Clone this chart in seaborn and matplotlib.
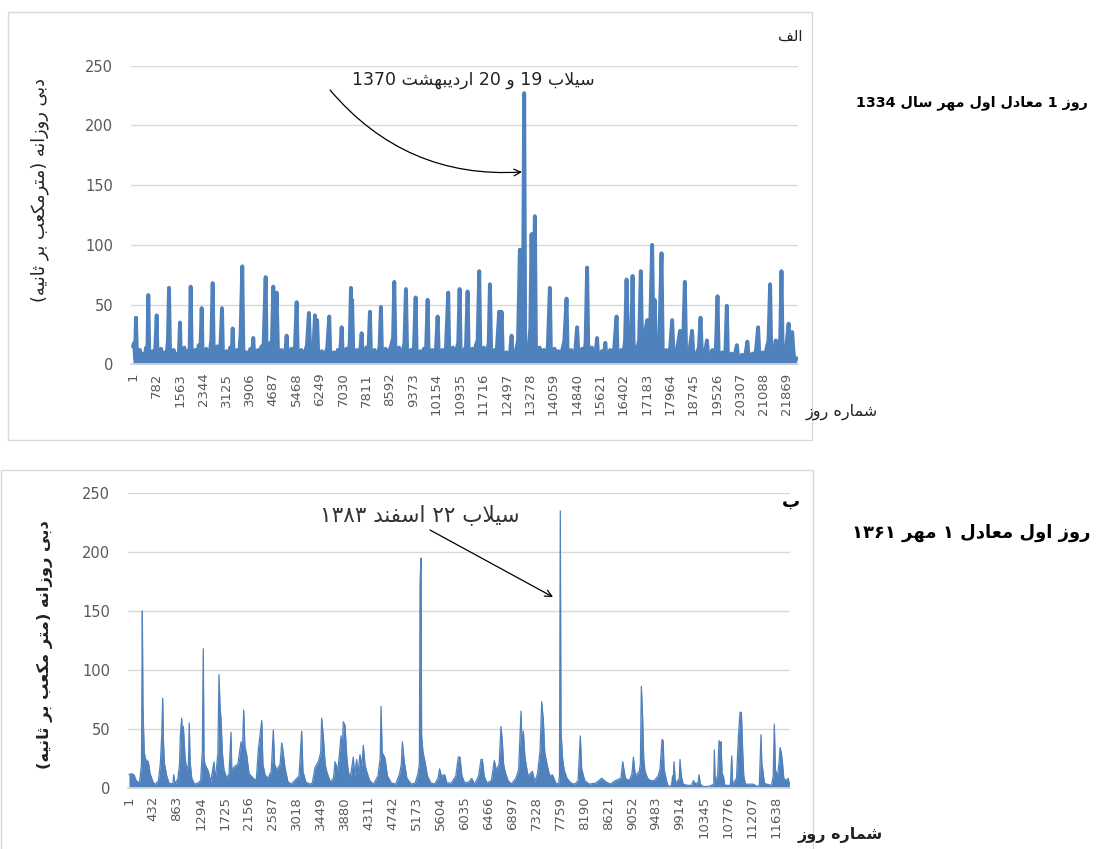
import re
import matplotlib
matplotlib.use("Agg")
import matplotlib.pyplot as plt
from matplotlib.patches import Rectangle
import seaborn as sns

W, H = 1104, 849

# =========================
# data
# =========================

# panel a: day number (from 1 Mehr 1334) / daily discharge (m3/s)
day_a = [
    0, 40, 70, 100, 130, 170, 230, 270, 330, 380,
    440, 480, 513, 545, 590, 660, 700, 750, 793, 820,
    870, 940, 990, 1060, 1110, 1170, 1205, 1240, 1290, 1360,
    1410, 1480, 1530, 1573, 1600, 1650, 1720, 1770, 1840, 1890,
    1930, 1965, 2010, 2080, 2130, 2200, 2250, 2298, 2330, 2380,
    2450, 2500, 2570, 2620, 2666, 2700, 2750, 2820, 2870, 2930,
    2977, 3010, 3060, 3130, 3180, 3250, 3300, 3335, 3370, 3420,
    3490, 3540, 3600, 3656, 3690, 3740, 3810, 3860, 3930, 3980,
    4024, 4060, 4110, 4180, 4230, 4300, 4360, 4438, 4470, 4520,
    4590, 4640, 4693, 4740, 4806, 4850, 4900, 4970, 5020, 5090,
    5140, 5180, 5230, 5300, 5350, 5420, 5475, 5510, 5560, 5630,
    5680, 5750, 5820, 5886, 5930, 5990, 6040, 6087, 6120, 6160,
    6200, 6250, 6320, 6370, 6440, 6500, 6565, 6600, 6650, 6720,
    6770, 6850, 6930, 6980, 7020, 7070, 7140, 7190, 7250, 7291,
    7310, 7330, 7370, 7420, 7490, 7540, 7600, 7649, 7690, 7740,
    7810, 7870, 7926, 7960, 8010, 8080, 8130, 8200, 8250, 8294,
    8330, 8380, 8450, 8500, 8570, 8640, 8700, 8740, 8780, 8830,
    8900, 8950, 9020, 9080, 9130, 9170, 9220, 9290, 9340, 9400,
    9455, 9490, 9540, 9610, 9660, 9730, 9800, 9856, 9890, 9940,
    10010, 10060, 10130, 10190, 10230, 10280, 10350, 10400, 10470, 10545,
    10580, 10630, 10700, 10750, 10820, 10880, 10926, 10960, 11010, 11080,
    11140, 11193, 11230, 11280, 11350, 11400, 11470, 11530, 11582, 11620,
    11670, 11740, 11790, 11860, 11900, 11940, 11980, 12030, 12100, 12160,
    12250, 12290, 12330, 12370, 12420, 12490, 12540, 12610, 12665, 12700,
    12750, 12820, 12880, 12942, 12990, 13040, 13086, 13120, 13180, 13240,
    13290, 13333, 13380, 13443, 13480, 13530, 13600, 13660, 13740, 13800,
    13880, 13945, 13980, 14030, 14100, 14160, 14230, 14290, 14360, 14430,
    14503, 14540, 14590, 14660, 14720, 14790, 14857, 14900, 14950, 15020,
    15080, 15140, 15191, 15230, 15280, 15350, 15410, 15470, 15525, 15560,
    15610, 15680, 15740, 15800, 15840, 15890, 15960, 16020, 16100, 16176,
    16210, 16260, 16330, 16400, 16460, 16510, 16560, 16620, 16670, 16711,
    16750, 16800, 16870, 16930, 16988, 17030, 17100, 17200, 17250, 17300,
    17366, 17410, 17450, 17490, 17540, 17600, 17680, 17720, 17770, 17840,
    17900, 17970, 18035, 18080, 18140, 18210, 18300, 18350, 18400, 18460,
    18500, 18550, 18620, 18700, 18750, 18800, 18870, 18930, 18985, 19030,
    19080, 19150, 19200, 19250, 19310, 19380, 19440, 19500, 19553, 19590,
    19640, 19710, 19770, 19820, 19864, 19900, 19950, 20020, 20080, 20150,
    20200, 20250, 20300, 20370, 20430, 20500, 20550, 20600, 20650, 20720,
    20780, 20850, 20911, 20950, 21000, 21070, 21130, 21200, 21260, 21312,
    21350, 21400, 21450, 21500, 21550, 21600, 21650, 21693, 21730, 21780,
    21850, 21930, 21980, 22050, 22100, 22150, 22200,
]
q_a = [
    15, 18, 5, 39, 8, 3, 12, 2, 9, 3,
    14, 6, 58, 9, 3, 11, 2, 15, 41, 8,
    2, 13, 3, 10, 4, 20, 64, 10, 2, 12,
    3, 9, 5, 35, 7, 2, 14, 3, 11, 6,
    65, 9, 2, 12, 3, 16, 5, 47, 7, 2,
    13, 4, 10, 20, 68, 12, 3, 15, 4, 18,
    47, 9, 2, 11, 3, 14, 6, 30, 8, 2,
    12, 4, 25, 82, 14, 3, 10, 2, 13, 5,
    22, 6, 2, 12, 3, 15, 8, 73, 12, 3,
    18, 10, 65, 15, 60, 10, 3, 12, 4, 8,
    24, 5, 2, 13, 3, 15, 52, 9, 2, 12,
    3, 10, 16, 43, 8, 3, 14, 41, 20, 37,
    6, 2, 11, 3, 9, 14, 40, 8, 2, 10,
    3, 12, 8, 31, 6, 2, 13, 4, 18, 64,
    25, 54, 9, 2, 12, 3, 11, 26, 5, 2,
    14, 6, 44, 8, 2, 12, 3, 9, 15, 48,
    8, 2, 13, 4, 10, 16, 22, 69, 12, 3,
    14, 4, 10, 18, 63, 10, 2, 12, 3, 15,
    56, 8, 2, 11, 3, 13, 9, 54, 8, 2,
    12, 3, 10, 40, 7, 2, 12, 3, 14, 60,
    10, 2, 14, 4, 12, 18, 63, 10, 3, 12,
    15, 61, 9, 2, 13, 4, 16, 20, 78, 12,
    3, 14, 4, 12, 18, 67, 10, 3, 12, 8,
    44, 20, 44, 8, 2, 10, 3, 9, 24, 5,
    2, 12, 20, 96, 15, 20, 227, 18, 8, 14,
    30, 109, 25, 124, 15, 4, 14, 4, 12, 3,
    16, 64, 9, 2, 13, 4, 11, 3, 12, 20,
    55, 9, 2, 12, 4, 10, 31, 6, 2, 13,
    4, 18, 81, 12, 3, 14, 4, 8, 22, 5,
    2, 11, 3, 18, 5, 2, 12, 4, 14, 40,
    8, 2, 12, 6, 20, 71, 18, 10, 22, 74,
    12, 3, 14, 20, 78, 15, 22, 37, 18, 30,
    100, 20, 54, 10, 4, 16, 93, 12, 3, 12,
    4, 14, 37, 10, 3, 14, 28, 8, 16, 69,
    12, 3, 12, 28, 6, 2, 10, 14, 39, 8,
    2, 12, 20, 4, 2, 12, 4, 14, 57, 8,
    2, 10, 4, 12, 49, 7, 2, 9, 3, 10,
    16, 4, 2, 8, 3, 10, 19, 5, 2, 9,
    3, 14, 31, 8, 2, 10, 3, 14, 20, 67,
    10, 3, 12, 20, 4, 14, 22, 78, 12, 3,
    14, 34, 12, 27, 8, 3, 5,
]

# panel b: day number (from 1 Mehr 1361) / daily discharge (m3/s)
day_b = [
    0, 40, 90, 130, 190, 225, 241, 252, 275, 300, 349, 380, 439, 480,
    530, 564, 589, 607, 620, 637, 680, 720, 790, 805, 830,
    880, 910, 924, 949, 960, 979, 1009, 1040, 1070, 1085, 1100, 1130, 1180, 1240,
    1290, 1320, 1337, 1350, 1367, 1427, 1470, 1530, 1550,
    1600, 1620, 1638, 1655, 1680, 1710, 1760, 1800, 1836, 1850, 1900, 1960,
    2016, 2040, 2065, 2085, 2118, 2160, 2238, 2290,
    2327, 2357, 2389, 2410, 2448, 2500, 2560, 2597, 2620,
    2660, 2720, 2748, 2766, 2807, 2860, 2920,
    3060, 3107, 3130, 3180, 3250,
    3300, 3347, 3407, 3450, 3467, 3497, 3530, 3557, 3620,
    3680, 3707, 3760, 3815, 3835, 3856, 3887, 3920, 3946, 3980,
    4036, 4060, 4096, 4120, 4156, 4190, 4216, 4245, 4276, 4330, 4400,
    4480, 4520, 4535, 4555, 4607, 4650, 4720, 4800,
    4870, 4900, 4918, 4953, 5000, 5080, 5150,
    5200, 5225, 5236, 5254, 5265, 5290, 5326, 5370, 5430,
    5500, 5560, 5588, 5620, 5678, 5720,
    5800, 5880, 5925, 5955, 5990, 6040,
    6120, 6166, 6220, 6290, 6334, 6358, 6390, 6440,
    6520, 6572, 6610, 6660, 6693, 6717, 6740, 6765, 6820, 6880,
    6960, 7010, 7053, 7075, 7095, 7125, 7180, 7257, 7300,
    7350, 7395, 7425, 7455, 7480, 7520, 7570, 7616, 7680, 7730,
    7745, 7760, 7772, 7800, 7830, 7880, 7950,
    8020, 8080, 8120, 8144, 8200, 8280,
    8400, 8504, 8580, 8660, 8750,
    8850, 8883, 8930, 9000, 9050, 9075, 9110, 9181, 9200, 9218, 9242, 9260, 9283, 9330, 9380,
    9450, 9520, 9554, 9575, 9590, 9610, 9626, 9670, 9703, 9760,
    9781, 9790, 9805, 9830, 9870, 9900, 9913, 9935, 9970, 10050,
    10120, 10153, 10200, 10240, 10255, 10280, 10330, 10420, 10480,
    10520, 10531, 10545, 10590, 10615, 10635, 10651, 10670, 10693, 10720,
    10820, 10843, 10860, 10930, 10963, 10993, 11017, 11041, 11060, 11090, 11150, 11230,
    11300, 11340, 11370, 11385, 11400, 11430, 11470,
    11560, 11590, 11610, 11630, 11670, 11700, 11713, 11735, 11755, 11780, 11820, 11860, 11880,
]
q_b = [
    11, 12, 11, 6, 4, 20, 150, 68, 30, 24, 22, 12, 4, 3,
    6, 20, 44, 76, 40, 21, 10, 4, 3, 11, 3,
    8, 20, 44, 59, 45, 52, 26, 15, 20, 55, 22, 8, 3, 4,
    6, 31, 118, 25, 20, 14, 5, 22, 6,
    29, 96, 69, 59, 30, 15, 8, 12, 47, 15, 18, 20,
    39, 30, 66, 35, 28, 12, 8, 6,
    32, 44, 57, 20, 11, 8, 14, 49, 20,
    15, 20, 38, 33, 17, 5, 3,
    10, 48, 14, 5, 3,
    4, 17, 22, 30, 59, 43, 20, 14, 5,
    8, 22, 15, 44, 30, 56, 53, 25, 14, 8,
    26, 10, 24, 12, 28, 18, 36, 20, 14, 6, 3,
    10, 25, 69, 30, 25, 10, 4, 3,
    12, 20, 39, 22, 8, 3, 4,
    12, 20, 172, 195, 44, 30, 22, 10, 4,
    3, 8, 16, 10, 11, 4,
    4, 10, 26, 26, 10, 4,
    5, 8, 3, 10, 24, 24, 10, 4,
    6, 23, 15, 20, 52, 39, 20, 14, 6, 3,
    8, 15, 65, 30, 48, 25, 10, 14, 5,
    12, 31, 73, 57, 30, 20, 10, 11, 4, 3,
    10, 235, 49, 25, 15, 8, 4,
    3, 6, 44, 16, 6, 3,
    4, 8, 5, 3, 6,
    8, 22, 8, 6, 12, 26, 10, 14, 20, 86, 58, 25, 14, 8, 6,
    6, 10, 16, 30, 41, 40, 16, 6, 1, 2,
    10, 3, 22, 4, 6, 8, 24, 10, 3, 2,
    2, 6, 3, 5, 11, 3, 1, 1, 2,
    3, 32, 6, 10, 40, 35, 39, 12, 10, 2,
    2, 27, 3, 8, 43, 64, 64, 31, 10, 3, 3, 3,
    1, 2, 45, 20, 16, 4, 3,
    2, 10, 54, 15, 10, 25, 34, 30, 22, 8, 6, 8, 3,
]

ticks_a = [1, 782, 1563, 2344, 3125, 3906, 4687, 5468, 6249, 7030, 7811, 8592,
           9373, 10154, 10935, 11716, 12497, 13278, 14059, 14840, 15621, 16402,
           17183, 17964, 18745, 19526, 20307, 21088, 21869]
ticks_b = [1, 432, 863, 1294, 1725, 2156, 2587, 3018, 3449, 3880, 4311, 4742,
           5173, 5604, 6035, 6466, 6897, 7328, 7759, 8190, 8621, 9052, 9483,
           9914, 10345, 10776, 11207, 11638]
ticks_y = [0, 50, 100, 150, 200, 250]

assert len(day_a) == len(q_a) and len(day_b) == len(q_b)

# =========================
# Persian text: shaping + right-to-left order
# =========================

# isolated, final, initial, medial
FORMS = {
    '\u0627': ('\uFE8D', '\uFE8E', None, None),       # alef
    '\u0628': ('\uFE8F', '\uFE90', '\uFE91', '\uFE92'),  # beh
    '\u067E': ('\uFB56', '\uFB57', '\uFB58', '\uFB59'),  # peh
    '\u062A': ('\uFE95', '\uFE96', '\uFE97', '\uFE98'),  # teh
    '\u062B': ('\uFE99', '\uFE9A', '\uFE9B', '\uFE9C'),  # theh
    '\u062F': ('\uFEA9', '\uFEAA', None, None),       # dal
    '\u0631': ('\uFEAD', '\uFEAE', None, None),       # reh
    '\u0632': ('\uFEAF', '\uFEB0', None, None),       # zain
    '\u0633': ('\uFEB1', '\uFEB2', '\uFEB3', '\uFEB4'),  # seen
    '\u0634': ('\uFEB5', '\uFEB6', '\uFEB7', '\uFEB8'),  # sheen
    '\u0639': ('\uFEC9', '\uFECA', '\uFECB', '\uFECC'),  # ain
    '\u0641': ('\uFED1', '\uFED2', '\uFED3', '\uFED4'),  # feh
    '\u06A9': ('\uFED9', '\uFEDA', '\uFEDB', '\uFEDC'),  # keheh
    '\u0644': ('\uFEDD', '\uFEDE', '\uFEDF', '\uFEE0'),  # lam
    '\u0645': ('\uFEE1', '\uFEE2', '\uFEE3', '\uFEE4'),  # meem
    '\u0646': ('\uFEE5', '\uFEE6', '\uFEE7', '\uFEE8'),  # noon
    '\u0647': ('\uFEE9', '\uFEEA', '\uFEEB', '\uFEEC'),  # heh
    '\u0648': ('\uFEED', '\uFEEE', None, None),       # waw
    '\u06CC': ('\uFEEF', '\uFEF0', '\uFEF3', '\uFEF4'),  # farsi yeh
}


def shape(text):
    out = []
    i = 0
    n = len(text)
    while i < n:
        c = text[i]
        if c not in FORMS:
            out.append(c)
            i += 1
            continue
        prev = text[i - 1] if i > 0 else None
        nxt = text[i + 1] if i + 1 < n else None
        join_prev = prev in FORMS and FORMS[prev][2] is not None
        if c == '\u0644' and nxt == '\u0627':   # lam-alef
            out.append('\uFEFC' if join_prev else '\uFEFB')
            i += 2
            continue
        join_next = nxt in FORMS and FORMS[c][2] is not None
        iso, fin, ini, med = FORMS[c]
        if join_prev and join_next:
            out.append(med)
        elif join_prev:
            out.append(fin)
        elif join_next:
            out.append(ini)
        else:
            out.append(iso)
        i += 1
    return ''.join(out)


def fa(text):
    parts = re.findall(r'[0-9\u06F0-\u06F9]+|.', shape(text))
    mirror = {'(': ')', ')': '('}
    return ''.join(mirror.get(p, p) for p in reversed(parts))


# =========================
# figure
# =========================

sns.set_theme(style="white")
plt.rcParams['font.family'] = ['DejaVu Sans']

BLUE = '#4F81BD'
GRID = '#D9D9D9'
TICK = '#595959'

fig = plt.figure(figsize=(W / 100, H / 100), dpi=100)


def axes_px(left, top, right, bottom):
    return fig.add_axes([left / W, 1 - bottom / H, (right - left) / W, (bottom - top) / H])


def ftext(x, y, s, **kw):
    fig.text(x / W, 1 - y / H, s, **kw)


def style_axes(ax, ticks, xlim):
    ax.set_xlim(*xlim)
    ax.set_ylim(0, 250)
    ax.set_yticks(ticks_y)
    ax.set_xticks(ticks)
    ax.set_xticklabels([str(t) for t in ticks], rotation=90, fontsize=9.5, color=TICK)
    ax.set_yticklabels([str(t) for t in ticks_y], fontsize=10.5, color=TICK)
    ax.tick_params(axis='y', length=0, pad=13)
    ax.tick_params(axis='x', length=0, pad=6)
    ax.yaxis.grid(True, color=GRID, lw=1)
    ax.xaxis.grid(False)
    ax.set_axisbelow(True)
    for side in ['top', 'right', 'left']:
        ax.spines[side].set_visible(False)
    ax.spines['bottom'].set_color(GRID)
    ax.set_xlabel('')
    ax.set_ylabel('')
    ax.patch.set_alpha(0)


# panel frames
fig.add_artist(Rectangle((8 / W, 1 - 440 / H), 804 / W, 428 / H, transform=fig.transFigure,
                         fill=False, edgecolor=GRID, lw=1))
fig.add_artist(Rectangle((0.5 / W, 1 - 860 / H), 812 / W, 390 / H, transform=fig.transFigure,
                         fill=False, edgecolor=GRID, lw=1))

# --- panel a ---
ax1 = axes_px(131, 65.7, 798, 364.3)
ax1.fill_between(day_a, q_a, 0, color=BLUE, lw=0)
sns.lineplot(x=day_a, y=q_a, ax=ax1, color=BLUE, linewidth=2.8,
             estimator=None, sort=False, solid_joinstyle='round')
style_axes(ax1, ticks_a, (-66, 22245))

# --- panel b ---
ax2 = axes_px(128, 493.3, 790, 787.7)
ax2.fill_between(day_b, q_b, 0, color=BLUE, lw=0)
sns.lineplot(x=day_b, y=q_b, ax=ax2, color=BLUE, linewidth=0.9,
             estimator=None, sort=False)
style_axes(ax2, ticks_b, (-17, 11892))

# labels, panel a
ftext(790, 36, fa('الف'), fontsize=11, ha='center', va='center', color='#222222')
ftext(40, 190, fa('دبی روزانه (مترمکعب بر ثانیه)'), fontsize=12.8, rotation=90,
      ha='center', va='center', color='#222222')
ftext(842, 412, fa('شماره روز'), fontsize=11.5, ha='center', va='center', color='#222222')
ftext(473, 80, fa('سیلاب 19 و 20 اردیبهشت 1370'), fontsize=12.5, ha='center', va='center',
      color='#222222')
ftext(972, 103, fa('روز 1 معادل اول مهر سال 1334'), fontsize=10.3, fontweight='bold',
      ha='center', va='center', color='black')
fig.add_artist(plt.Annotation('', xy=(522 / W, 1 - 172 / H), xytext=(330 / W, 1 - 90 / H),
                              xycoords='figure fraction', textcoords='figure fraction',
                              arrowprops=dict(arrowstyle='->', color='black', lw=0.9,
                                              connectionstyle='arc3,rad=0.25',
                                              shrinkA=0, shrinkB=0)))

# labels, panel b
ftext(791, 502, fa('ب'), fontsize=13, fontweight='bold', ha='center', va='center', color='black')
ftext(45, 645, fa('دبی روزانه (متر مکعب بر ثانیه)'), fontsize=11.7, fontweight='bold', rotation=90,
      ha='center', va='center', color='#222222')
ftext(840, 835, fa('شماره روز'), fontsize=11.5, fontweight='bold', ha='center', va='center',
      color='#222222')
ftext(420, 515, fa('سیلاب ۲۲ اسفند ۱۳۸۳'), fontsize=15.5, ha='center', va='center', color='#333333')
ftext(971, 533, fa('روز اول معادل ۱ مهر ۱۳۶۱'), fontsize=13, fontweight='bold',
      ha='center', va='center', color='black')
fig.add_artist(plt.Annotation('', xy=(553 / W, 1 - 597 / H), xytext=(430 / W, 1 - 530 / H),
                              xycoords='figure fraction', textcoords='figure fraction',
                              arrowprops=dict(arrowstyle='->', color='black', lw=0.9,
                                              shrinkA=0, shrinkB=0)))

fig.savefig('out.png', dpi=100)
